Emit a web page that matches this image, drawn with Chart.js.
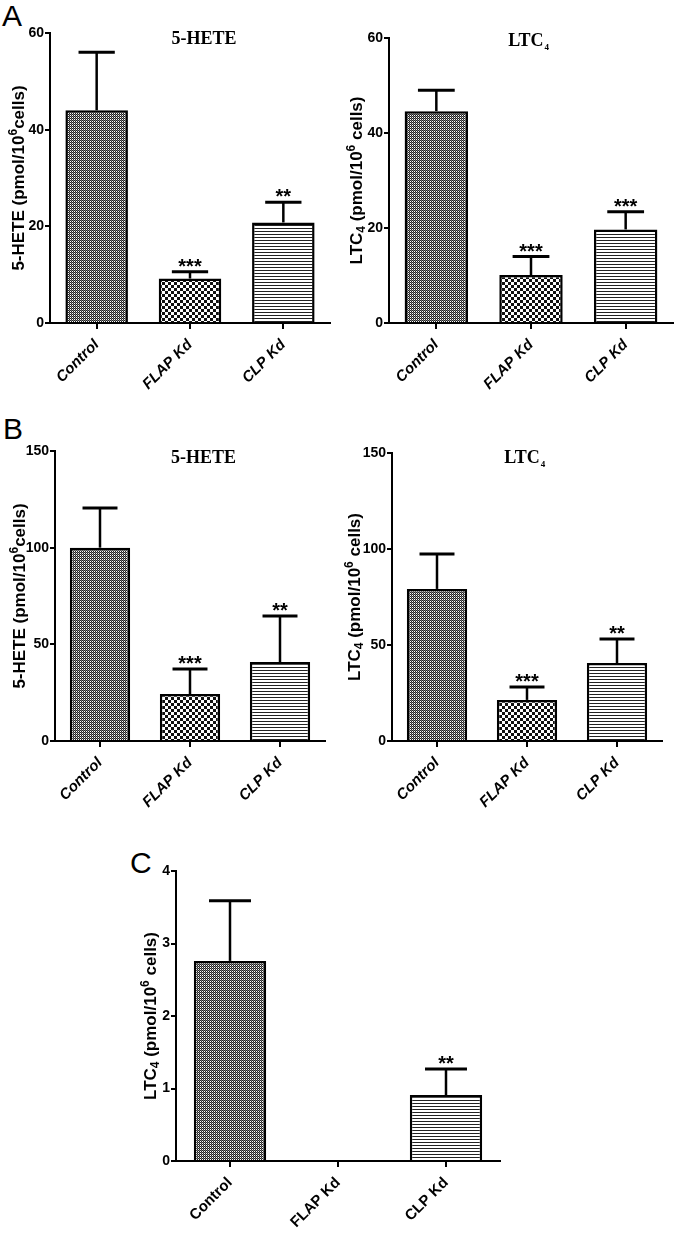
<!DOCTYPE html>
<html>
<head>
<meta charset="utf-8">
<script src="https://cdn.jsdelivr.net/npm/chart.js@4.4.1/dist/chart.umd.min.js"></script>
<style>
  body { margin: 0; background: #fff; }
  #page { position: relative; width: 677px; height: 1240px; background: #fff; overflow: hidden; }
  canvas { position: absolute; }
  .letter { position: absolute; font-family: "Liberation Sans", Arial, sans-serif; font-size: 30px; line-height: 1; color: #000; }
</style>
</head>
<body>
<div id="page">
  <div class="letter" style="left:2px; top:1px;">A</div>
  <div class="letter" style="left:3px; top:414px;">B</div>
  <div class="letter" style="left:130px; top:848px;">C</div>
  <canvas id="cA1" style="left:0px; top:0px;" width="340" height="400"></canvas>
  <canvas id="cA2" style="left:340px; top:0px;" width="337" height="400"></canvas>
  <canvas id="cB1" style="left:0px; top:400px;" width="340" height="420"></canvas>
  <canvas id="cB2" style="left:340px; top:400px;" width="337" height="420"></canvas>
  <canvas id="cC" style="left:120px; top:830px;" width="440" height="410"></canvas>
</div>
<script>
// ===== DATA =====
const groups = ["Control", "FLAP Kd", "CLP Kd"];

// A: 5-HETE
const hete_A = [44, 9.2, 20.8];
const hete_A_sem = [12, 1.4, 4.2];
const hete_A_sig = ["", "***", "**"];
// A: LTC4
const ltc_A = [44.6, 10.1, 19.7];
const ltc_A_sem = [4.4, 3.9, 3.7];
const ltc_A_sig = ["", "***", "***"];

// B: 5-HETE
const hete_B = [100, 24.3, 40.8];
const hete_B_sem = [20.5, 12.9, 23.9];
const hete_B_sig = ["", "***", "**"];
// B: LTC4
const ltc_B = [79.2, 21.4, 40.6];
const ltc_B_sem = [18.2, 6.7, 12.5];
const ltc_B_sig = ["", "***", "**"];

// C: LTC4 (FLAP Kd not detected)
const ltc_C = [2.76, 0, 0.91];
const ltc_C_sem = [0.83, null, 0.36];
const ltc_C_sig = ["", "", "**"];

// axis settings
const ticksA = { max: 60, step: 20 };
const ticksB = { max: 150, step: 50 };
const ticksC = { max: 4, step: 1 };

// y titles as pieces (normal / sup / sub)
const heteTitle = [["5-HETE (pmol/10", ""], ["6", "sup"], ["cells)", ""]];
const ltcTitle = [["LTC", ""], ["4", "sub"], [" (pmol/10", ""], ["6", "sup"], [" cells)", ""]];

// ===== PATTERNS =====
function makePattern(w, h, drawFn) {
  const c = document.createElement("canvas");
  c.width = w; c.height = h;
  const g = c.getContext("2d");
  g.fillStyle = "#fff";
  g.fillRect(0, 0, w, h);
  drawFn(g);
  return document.createElement("canvas").getContext("2d").createPattern(c, "repeat");
}
const patControl = makePattern(2, 2, g => {
  g.fillStyle = "#222";
  g.fillRect(0, 0, 1, 1);
  g.fillRect(1, 1, 1, 1);
  g.fillStyle = "#777";
  g.fillRect(1, 0, 1, 1);
});
const patFlap = makePattern(6, 6, g => {
  g.fillStyle = "#111";
  g.fillRect(0, 0, 3, 3);
  g.fillRect(3, 3, 3, 3);
});
const patClp = makePattern(3, 3, g => {
  g.fillStyle = "#222";
  g.fillRect(0, 0, 3, 1);
});
const fills = [patControl, patFlap, patClp];

const SANS = "'Liberation Sans', Arial, sans-serif";

// ===== PLUGINS =====
const errorBars = {
  id: "errorBars",
  afterDatasetsDraw(chart, args, opts) {
    const ctx = chart.ctx;
    const meta = chart.getDatasetMeta(0);
    const y = chart.scales.y;
    const vals = chart.data.datasets[0].data;
    ctx.save();
    ctx.strokeStyle = "#000";
    meta.data.forEach((bar, i) => {
      const e = opts.sem[i];
      if (e == null) return;
      const x = bar.x;
      const y0 = y.getPixelForValue(vals[i]);
      const y1 = y.getPixelForValue(vals[i] + e);
      const half = bar.width * 0.29;
      ctx.lineWidth = 2.5;
      ctx.beginPath();
      ctx.moveTo(x, y0);
      ctx.lineTo(x, y1);
      ctx.stroke();
      ctx.lineWidth = 3;
      ctx.beginPath();
      ctx.moveTo(x - half, y1);
      ctx.lineTo(x + half, y1);
      ctx.stroke();
      const s = opts.sig[i];
      if (s) {
        ctx.fillStyle = "#000";
        ctx.font = "bold 20px " + SANS;
        ctx.textAlign = "center";
        ctx.textBaseline = "alphabetic";
        ctx.fillText(s, x, y1 + 1);
      }
    });
    ctx.restore();
  }
};

const panelTitle = {
  id: "panelTitle",
  afterDraw(chart, args, opts) {
    if (!opts.text) return;
    const ctx = chart.ctx;
    const a = chart.chartArea;
    const cx = a.left + (a.right - a.left) * opts.fx;
    const cy = a.top + opts.dy;
    const big = "bold 18px 'Liberation Serif', 'Times New Roman', serif";
    const small = "bold 9px 'Liberation Serif', 'Times New Roman', serif";
    ctx.save();
    ctx.fillStyle = "#000";
    ctx.textBaseline = "middle";
    ctx.textAlign = "left";
    ctx.font = big;
    const w1 = ctx.measureText(opts.text).width;
    let w2 = 0;
    if (opts.sub) {
      ctx.font = small;
      w2 = ctx.measureText(opts.sub).width;
    }
    const x0 = cx - (w1 + w2) / 2;
    ctx.font = big;
    ctx.fillText(opts.text, x0, cy);
    if (opts.sub) {
      ctx.font = small;
      ctx.fillText(opts.sub, x0 + w1 + 1, cy + 7);
    }
    ctx.restore();
  }
};

const yTitle = {
  id: "yTitle",
  afterDraw(chart, args, opts) {
    const ctx = chart.ctx;
    const a = chart.chartArea;
    const big = "bold 17px " + SANS;
    const small = "bold 12px " + SANS;
    ctx.save();
    ctx.fillStyle = "#000";
    ctx.textBaseline = "alphabetic";
    ctx.textAlign = "left";
    let total = 0;
    opts.parts.forEach(p => {
      ctx.font = p[1] ? small : big;
      total += ctx.measureText(p[0]).width;
    });
    ctx.translate(opts.x + 6, (a.top + a.bottom) / 2);
    ctx.rotate(-Math.PI / 2);
    let x = -total / 2;
    opts.parts.forEach(p => {
      ctx.font = p[1] ? small : big;
      const dy = p[1] === "sup" ? -7 : p[1] === "sub" ? 3 : 0;
      ctx.fillText(p[0], x, dy);
      x += ctx.measureText(p[0]).width;
    });
    ctx.restore();
  }
};

// ===== CHART BUILDER =====
function makeChart(id, cfg) {
  const canvas = document.getElementById(id);
  const W = canvas.width, H = canvas.height;
  const area = cfg.area;
  const labelFont = {
    family: SANS,
    size: 15,
    weight: "bold",
    style: cfg.italic ? "italic" : "normal"
  };
  return new Chart(canvas, {
    type: "bar",
    data: {
      labels: groups,
      datasets: [{
        data: cfg.values,
        backgroundColor: fills,
        borderColor: "#000",
        borderWidth: ctx => (ctx.raw === 0 ? 0 : 2.5),
        borderSkipped: "bottom",
        categoryPercentage: 1,
        barPercentage: 0.67
      }]
    },
    options: {
      responsive: false,
      animation: false,
      events: [],
      layout: {
        padding: { left: 0, top: area.top, right: W - area.right, bottom: 0 }
      },
      plugins: {
        legend: { display: false },
        tooltip: { enabled: false },
        errorBars: { sem: cfg.sem, sig: cfg.sig },
        panelTitle: cfg.title,
        yTitle: { parts: cfg.yTitle, x: cfg.titleX }
      },
      scales: {
        x: {
          offset: true,
          border: { display: true, color: "#000", width: 2 },
          grid: { display: true, offset: false, drawOnChartArea: false, drawTicks: true, tickLength: 6, color: "#000", lineWidth: 2 },
          ticks: { color: "#000", font: labelFont, minRotation: 45, maxRotation: 45, padding: 7 },
          afterFit: s => { s.height = H - area.bottom; }
        },
        y: {
          min: 0,
          max: cfg.ticks.max,
          border: { display: true, color: "#000", width: 2 },
          grid: { display: true, drawOnChartArea: false, drawTicks: true, tickLength: 5, color: "#000", lineWidth: 2 },
          ticks: {
            stepSize: cfg.ticks.step,
            color: "#000",
            padding: 1,
            font: { family: "'Liberation Sans Narrow', 'Liberation Sans', Arial, sans-serif", size: 14, weight: "bold" }
          },
          afterFit: s => { s.width = area.left; }
        }
      }
    },
    plugins: [errorBars, panelTitle, yTitle]
  });
}

makeChart("cA1", {
  values: hete_A, sem: hete_A_sem, sig: hete_A_sig, ticks: ticksA, italic: true,
  area: { left: 50, top: 33, right: 330, bottom: 323 }, titleX: 18, yTitle: heteTitle,
  title: { text: "5-HETE", fx: 0.55, dy: 6 }
});
makeChart("cA2", {
  values: ltc_A, sem: ltc_A_sem, sig: ltc_A_sig, ticks: ticksA, italic: true,
  area: { left: 49, top: 38, right: 333, bottom: 323 }, titleX: 16, yTitle: ltcTitle,
  title: { text: "LTC", sub: "4", fx: 0.49, dy: 3 }
});
makeChart("cB1", {
  values: hete_B, sem: hete_B_sem, sig: hete_B_sig, ticks: ticksB, italic: true,
  area: { left: 55, top: 51, right: 325, bottom: 341 }, titleX: 19, yTitle: heteTitle,
  title: { text: "5-HETE", fx: 0.55, dy: 7 }
});
makeChart("cB2", {
  values: ltc_B, sem: ltc_B_sem, sig: ltc_B_sig, ticks: ticksB, italic: true,
  area: { left: 52, top: 53, right: 322, bottom: 341 }, titleX: 14, yTitle: ltcTitle,
  title: { text: "LTC", sub: "4", fx: 0.49, dy: 5 }
});
makeChart("cC", {
  values: ltc_C, sem: ltc_C_sem, sig: ltc_C_sig, ticks: ticksC, italic: false,
  area: { left: 56, top: 41, right: 380, bottom: 331 }, titleX: 30, yTitle: ltcTitle,
  title: { text: "", fx: 0.5, dy: 0 }
});
</script>
</body>
</html>
